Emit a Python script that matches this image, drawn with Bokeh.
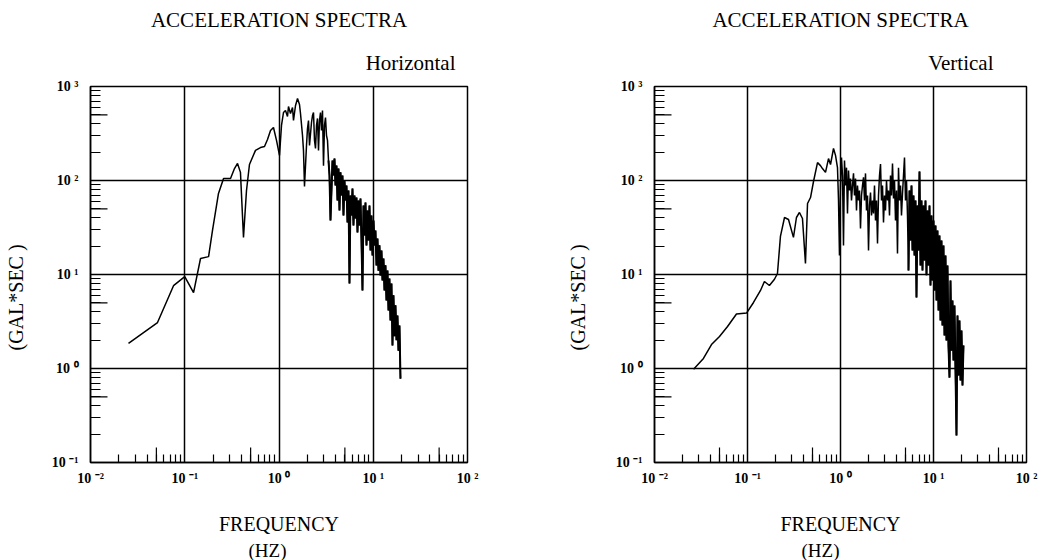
import math
from bokeh.plotting import figure
from bokeh.layouts import row
from bokeh.models import FixedTicker, CustomJSTickFormatter, Range1d, Title
from bokeh.embed import file_html
from bokeh.resources import INLINE

FONT = "Liberation Serif"

# ---------------- data ----------------
title_text = "ACCELERATION SPECTRA"
components = ["Horizontal", "Vertical"]
y_label_text = "(GAL*SEC )"
x_label_text = "FREQUENCY"
x_unit_text = "(HZ)"

x_decades = [1e-2, 1e-1, 1e0, 1e1, 1e2]
y_decades = [1e-1, 1e0, 1e1, 1e2, 1e3]
x_minor = [m * d for d in x_decades[:-1] for m in range(2, 10)]
y_minor = [m * d for d in y_decades[:-1] for m in range(2, 10)]
x_half = [5e-2, 5e-1, 5e0, 5e1]
y_half = [5e-1, 5e0, 5e1, 5e2]

h_freq = [
    0.0253, 0.0514, 0.076, 0.1, 0.124, 0.147, 0.179, 0.197, 0.228, 0.258,
    0.306, 0.337, 0.363, 0.390, 0.420, 0.452, 0.486, 0.563, 0.636, 0.702,
    0.755, 0.813, 0.874, 0.941, 1.012, 1.063, 1.116, 1.172, 1.231, 1.261,
    1.324, 1.391, 1.425, 1.497, 1.572, 1.650, 1.691, 1.776, 1.819, 1.864,
    1.958, 2.006, 2.056, 2.107, 2.212, 2.267, 2.323, 2.381, 2.440, 2.500,
    2.562, 2.625, 2.690, 2.756, 2.824, 2.894, 2.966, 3.039, 3.114, 3.191,
    3.270, 3.351, 3.434, 3.518, 3.605, 3.694, 3.786, 3.879, 3.975, 4.073,
    4.174, 4.277, 4.383, 4.491, 4.602, 4.716, 4.833, 4.952, 5.075, 5.200,
    5.329, 5.461, 5.596, 5.734, 5.876, 6.021, 6.170, 6.323, 6.479, 6.639,
    6.803, 6.972, 7.144, 7.321, 7.502, 7.687, 7.877, 8.072, 8.272, 8.476,
    8.686, 8.901, 9.121, 9.346, 9.577, 9.814, 10.06, 10.31, 10.56, 10.82,
    11.09, 11.36, 11.64, 11.93, 12.23, 12.53, 12.84, 13.16, 13.48, 13.81,
    14.16, 14.51, 14.86, 15.23, 15.61, 16.00, 16.39, 16.79, 17.21, 17.64,
    18.07, 18.52, 18.98, 19.45,
]
h_amp = [
    1.85, 3.08, 7.6, 9.5, 6.4, 14.8, 15.5, 29.4, 72.8, 105,
    105, 134, 152, 122, 24.8, 78.3, 148, 209, 224, 230,
    273, 340, 366, 267, 185, 385, 529, 556, 480, 613,
    516, 598, 435, 628, 745, 644, 516, 301, 209, 86.3,
    236, 357, 435, 236, 414, 491, 529, 267, 219, 385,
    457, 209, 435, 529, 340, 556, 144, 385, 468, 301,
    267, 163, 113, 37.5, 78.3, 163, 113, 171, 88.5, 144,
    61.3, 134, 48.0, 122, 69.2, 113, 42.5, 100, 61.3, 88.5,
    35.7, 78.3, 8.02, 69.2, 42.5, 82.2, 33.2, 69.2, 39.4, 65.9,
    28.0, 61.3, 33.2, 64.4, 23.0, 6.76, 54.2, 26.0, 58.3, 20.4,
    48.0, 23.0, 54.2, 18.0, 42.5, 15.9, 37.5, 20.4, 29.4, 12.5,
    24.2, 11.0, 20.4, 9.76, 18.0, 8.63, 14.8, 6.76, 12.5, 5.29,
    11.0, 4.14, 9.06, 3.24, 8.02, 1.76, 6.0, 2.2, 4.7, 2.0,
    3.66, 1.55, 2.87, 0.78,
]

v_freq = [
    0.0263, 0.0336, 0.0410, 0.0500, 0.0610, 0.0761, 0.098, 0.116, 0.138, 0.152,
    0.172, 0.195, 0.210, 0.226, 0.250, 0.276, 0.312, 0.336, 0.362, 0.390,
    0.420, 0.442, 0.476, 0.5125, 0.566, 0.609, 0.640, 0.690, 0.743, 0.781,
    0.841, 0.884, 0.928, 0.952, 0.975, 1.0, 1.025, 1.051, 1.077, 1.104,
    1.132, 1.160, 1.189, 1.219, 1.250, 1.281, 1.313, 1.346, 1.380, 1.414,
    1.450, 1.486, 1.523, 1.562, 1.601, 1.641, 1.682, 1.724, 1.768, 1.812,
    1.857, 1.904, 1.952, 2.001, 2.051, 2.102, 2.155, 2.209, 2.264, 2.321,
    2.379, 2.439, 2.500, 2.563, 2.627, 2.693, 2.760, 2.829, 2.900, 2.973,
    3.047, 3.124, 3.202, 3.282, 3.365, 3.449, 3.535, 3.624, 3.715, 3.808,
    3.903, 4.001, 4.101, 4.204, 4.310, 4.418, 4.528, 4.642, 4.758, 4.877,
    4.999, 5.125, 5.253, 5.385, 5.520, 5.658, 5.800, 5.945, 6.094, 6.247,
    6.404, 6.564, 6.729, 6.897, 7.070, 7.247, 7.429, 7.615, 7.806, 8.002,
    8.202, 8.408, 8.619, 8.835, 9.056, 9.283, 9.516, 9.754, 9.999, 10.25,
    10.51, 10.77, 11.04, 11.32, 11.60, 11.89, 12.19, 12.49, 12.81, 13.13,
    13.46, 13.79, 14.14, 14.49, 14.86, 15.23, 15.61, 16.00, 16.40, 16.81,
    17.24, 17.67, 18.11, 18.57, 19.03, 19.51, 20.00, 20.50, 21.01,
]
v_amp = [
    0.98, 1.28, 1.80, 2.19, 2.80, 3.8, 3.9, 5.04, 6.76, 8.43,
    7.64, 8.9, 10.25, 25.4, 40.4, 38.5, 24.8, 40.4, 45.7, 39.4,
    13.1, 56.9, 65.9, 97.6, 155, 144, 134, 122, 171, 148,
    219, 185, 137, 61.3, 15.9, 88.5, 176, 113, 20.4, 163,
    88.5, 137, 44.6, 128, 78.3, 105, 61.3, 88.5, 119, 69.2,
    105, 48.0, 88.5, 61.3, 78.3, 30.9, 69.2, 88.5, 108, 61.3,
    119, 48.0, 69.2, 18.0, 54.2, 74.5, 42.5, 61.3, 44.6, 88.5,
    37.5, 61.3, 21.4, 69.2, 113, 150, 61.3, 88.5, 35.7, 69.2,
    48.0, 100, 61.3, 78.3, 42.5, 113, 69.2, 152, 64.4, 100,
    37.5, 78.3, 16.7, 137, 61.3, 88.5, 42.5, 72.8, 113, 176,
    61.3, 100, 42.5, 11.0, 78.3, 23.0, 88.5, 18.0, 69.2, 15.9,
    61.3, 5.69, 54.2, 18.0, 125, 12.5, 61.3, 11.0, 54.2, 14.1,
    61.3, 9.8, 48.0, 12.5, 54.2, 7.64, 42.5, 8.63, 37.5, 6.76,
    33.2, 5.29, 29.4, 4.14, 26.0, 3.24, 23.0, 2.87, 20.4, 2.24,
    15.9, 1.99, 12.5, 1.76, 0.80, 8.63, 1.55, 5.29, 1.22, 4.68,
    0.95, 0.194, 3.66, 0.843, 3.24, 0.745, 2.54, 0.66, 1.76,
]

# ---------------- drawing ----------------
fmt_code = r"""
const e = Math.round(Math.log10(tick));
const sup = {"-": "\u207B", "0": "\u2070", "1": "\u00B9", "2": "\u00B2", "3": "\u00B3"};
return "10 " + String(e).split("").map(c => sup[c]).join("");
"""


def add_title(p, text, side, align="center", offset=0, standoff=0, size="21px",
              valign="bottom"):
    p.add_layout(Title(text=text, align=align, offset=offset, standoff=standoff,
                       vertical_align=valign, text_font=FONT, text_font_size=size,
                       text_font_style="normal", text_color="black"), side)


def make_panel(freq, amp, component, dense_from, b_left, f_width, b_right, pos):
    p = figure(x_axis_type="log", y_axis_type="log",
               x_range=Range1d(x_decades[0], x_decades[-1]),
               y_range=Range1d(y_decades[0], y_decades[-1]),
               frame_width=f_width, frame_height=376,
               min_border_left=b_left, min_border_right=b_right,
               min_border_top=86, min_border_bottom=98,
               output_backend="svg", toolbar_location=None)
    p.background_fill_color = "white"
    p.border_fill_color = "white"
    p.outline_line_color = "black"
    p.outline_line_width = 1.5
    p.outline_line_alpha = 1.0

    xt = FixedTicker(ticks=x_decades, minor_ticks=x_minor)
    yt = FixedTicker(ticks=y_decades, minor_ticks=y_minor)
    p.xaxis[0].ticker = xt
    p.xgrid[0].ticker = xt
    p.yaxis[0].ticker = yt
    p.ygrid[0].ticker = yt

    for ax in (p.xaxis[0], p.yaxis[0]):
        ax.formatter = CustomJSTickFormatter(code=fmt_code)
        ax.major_tick_in = 0
        ax.major_tick_out = 0
        ax.minor_tick_out = 0
        ax.axis_line_color = "black"
        ax.axis_line_width = 1.5
        ax.minor_tick_line_color = "black"
        ax.minor_tick_line_width = 1.2
        ax.major_label_text_font = FONT
        ax.major_label_text_font_size = "14px"
        ax.major_label_text_font_style = "bold"
        ax.major_label_text_color = "black"
    p.xaxis[0].minor_tick_in = 8
    p.yaxis[0].minor_tick_in = 10
    p.xaxis[0].major_label_standoff = 8
    p.yaxis[0].major_label_standoff = 12
    p.yaxis[0].major_label_text_baseline = "bottom"

    # x-axis title
    xa = p.xaxis[0]
    xa.axis_label = x_label_text
    xa.axis_label_standoff = 24
    xa.axis_label_text_font = FONT
    xa.axis_label_text_font_size = "20px"
    xa.axis_label_text_font_style = "normal"
    xa.axis_label_text_color = "black"

    for g in (p.xgrid[0], p.ygrid[0]):
        g.grid_line_color = "black"
        g.grid_line_width = 1.5
        g.grid_line_alpha = 1.0

    # longer ticks at the 5's of each decade
    p.scatter(x=[x_decades[0]] * len(y_half), y=y_half, marker="dash", size=34,
              line_color="black", line_width=1.2)
    p.scatter(x=x_half, y=[y_decades[0]] * len(x_half), marker="dash", size=30,
              angle=math.pi / 2, line_color="black", line_width=1.2)

    # the spectrum; its dense high-frequency part is drawn a little heavier
    p.line(freq, amp, line_color="black", line_width=1.5)
    k = next(i for i, f in enumerate(freq) if f >= dense_from)
    p.line(freq[k:], amp[k:], line_color="black", line_width=2.0)

    # texts around the frame (titles stack outward from the frame)
    add_title(p, component, "above", align="right", offset=pos["comp"], standoff=24)
    add_title(p, title_text, "above", align="center", standoff=10)
    add_title(p, " ", "left", standoff=pos["gap"], size="14px")
    add_title(p, y_label_text, "left", align="left", offset=112, standoff=4, size="20px")
    add_title(p, x_unit_text, "below", align="left", offset=pos["hz"], standoff=0,
              size="19px")
    return p


p1 = make_panel(h_freq, h_amp, components[0], 3.3, 90, 377, 59,
                {"comp": 12, "gap": 3, "hz": 158})
p2 = make_panel(v_freq, v_amp, components[1], 5.3, 128, 372, 26,
                {"comp": 33, "gap": 5, "hz": 147})

layout = row(p1, p2)
with open("out.html", "w", encoding="utf-8") as f:
    f.write(file_html(layout, INLINE))
